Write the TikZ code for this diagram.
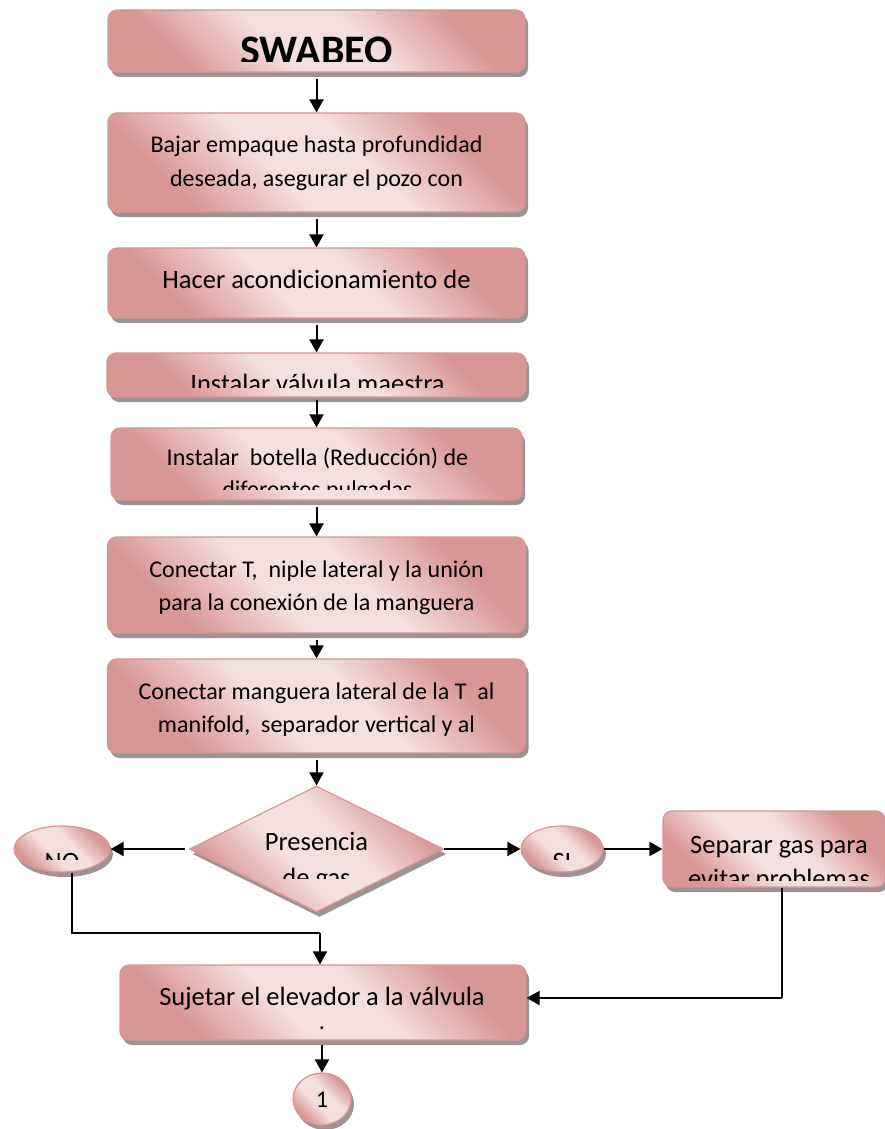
\documentclass[tikz,border=0pt]{standalone}
\usepackage{fontspec}
\setmainfont{Carlito}
\usetikzlibrary{shapes.geometric,shadows,arrows.meta}
\definecolor{pinkD}{RGB}{216,150,149}
\definecolor{pinkL}{RGB}{243,223,222}
\definecolor{pinkB}{RGB}{214,150,148}
\definecolor{shadowC}{RGB}{140,128,128}
\pgfdeclarehorizontalshading{pinkshade}{100bp}{color(0bp)=(pinkD); color(27bp)=(pinkD); color(43bp)=(pinkL); color(57bp)=(pinkL); color(73bp)=(pinkD); color(100bp)=(pinkD)}
\begin{document}
\begin{tikzpicture}[x=1pt,y=-1pt,
  fillstyle/.style={shading=pinkshade,shading angle=45,
    draw=pinkB,line width=1.2pt,
    drop shadow={shadow xshift=3pt,shadow yshift=-5pt,fill=shadowC,opacity=0.85}},
  box/.style={fillstyle,rectangle,rounded corners=9pt,inner sep=0pt},
  dia/.style={fillstyle,diamond,inner sep=0pt},
  ell/.style={fillstyle,ellipse,inner sep=0pt},
  txt/.style={inner sep=0pt,anchor=base,font=\fontsize{24}{28}\selectfont},
  txtL/.style={inner sep=0pt,anchor=base,font=\fontsize{26.5}{30}\selectfont},
  arr/.style={line width=2pt,-{Triangle[length=13pt,width=14pt]}},
  conn/.style={line width=1.3pt},
]
\useasboundingbox (0,0) rectangle (885,1129);

% shapes
\node[box,minimum width=417pt,minimum height=62pt] (n0) at (316.5,41) {};
\node[box,minimum width=417pt,minimum height=99pt] (n1) at (316.5,162.5) {};
\node[box,minimum width=417pt,minimum height=70pt] (n2) at (316.5,283) {};
\node[box,minimum width=419pt,minimum height=44pt] (n3) at (316.5,375) {};
\node[box,minimum width=411pt,minimum height=72pt] (n4) at (316.5,464) {};
\node[box,minimum width=418pt,minimum height=96pt] (n5) at (316.5,585) {};
\node[box,minimum width=418pt,minimum height=94pt] (n6) at (316.5,706) {};
\node[dia,minimum width=254pt,minimum height=126pt] (d) at (316.5,849) {};
\node[ell,minimum width=96pt,minimum height=46pt] (no) at (62,849) {};
\node[ell,minimum width=82pt,minimum height=46pt] (si) at (562,849) {};
\node[box,minimum width=222pt,minimum height=76pt] (sep) at (774,849) {};
\node[box,minimum width=406pt,minimum height=75pt] (n7) at (323,1002.5) {};
\node[ell,minimum width=58pt,minimum height=52pt] (one) at (322,1099) {};

% texts
\begin{scope}
\clip (100,0) rectangle (540,62);
\node[inner sep=0pt,anchor=base,font=\bfseries\fontsize{42}{46}\selectfont] (t0) at (316.5,65) {SWABEO};
\end{scope}
\node[txt] (t1a) at (316.5,153) {Bajar empaque hasta profundidad};
\node[txt] (t1b) at (316.5,186) {deseada, asegurar el pozo con};
\node[txtL] (t2) at (316.5,288) {Hacer acondicionamiento de};
\begin{scope}
\clip (100,350) rectangle (540,387);
\node[txtL] (t3) at (317.5,392) {Instalar válvula maestra};
\end{scope}
\node[txt] (t4a) at (317.5,465) {Instalar\ \ botella (Reducción) de};
\begin{scope}
\clip (100,470) rectangle (540,489);
\node[txt] (t4b) at (317.5,497) {diferentes pulgadas};
\end{scope}
\node[txt] (t5a) at (316.5,577) {Conectar T,\ \ niple lateral y la unión};
\node[txt] (t5b) at (316.5,610) {para la conexión de la manguera};
\node[txt] (t6a) at (316.5,699) {Conectar manguera lateral de la T\ \ al};
\node[txt] (t6b) at (316.5,732) {manifold,\ \ separador vertical y al};
\node[txtL] (tda) at (316.5,850) {Presencia};
\begin{scope}
\clip (200,855) rectangle (440,878);
\node[txtL] (tdb) at (316.5,886) {de gas};
\end{scope}
\begin{scope}
\clip (0,830) rectangle (120,859);
\node[txtL] (tno) at (62,870) {NO};
\end{scope}
\begin{scope}
\clip (510,830) rectangle (610,859);
\node[txtL] (tsi) at (562,870) {SI};
\end{scope}
\node[txtL] (tsa) at (779,853) {Separar gas para};
\begin{scope}
\clip (660,860) rectangle (885,880);
\node[txtL] (tsb) at (779,887) {evitar problemas};
\end{scope}
\node[txtL] (t7a) at (322,1005) {Sujetar el elevador a la válvula};
\node[txt] (t7b) at (322,1029) {.};
\node[txt] (t8) at (322,1107) {1};

% connectors
\draw[arr,shorten <=6pt] (n0) -- (n1);
\draw[arr,shorten <=6pt] (n1) -- (n2);
\draw[arr,shorten <=6pt] (n2) -- (n3);
\draw[arr,shorten <=2pt] (n3) -- (n4);
\draw[arr,shorten <=6pt] (n4) -- (n5);
\draw[arr,shorten <=6pt] (n5) -- (n6);
\draw[arr,shorten <=6pt] (n6) -- (d);
\draw[arr,shorten <=4pt] (d.west) -- (no.east);
\draw[arr] (d.east) -- (si.west);
\draw[arr] (si.east) -- (sep.west);
\coordinate (j1) at (320,933);
\coordinate (j2) at (782,998);
\draw[conn] ([xshift=10pt]no.south) |- (j1);
\draw[arr] (j1) -- (j1 |- n7.north);
\draw[conn] (sep.south -| j2) -- (j2);
\draw[arr] (j2) -- (j2 -| n7.east);
\draw[arr,shorten <=4pt] (n7.south -| one.north) -- (one.north);
\end{tikzpicture}
\end{document}
